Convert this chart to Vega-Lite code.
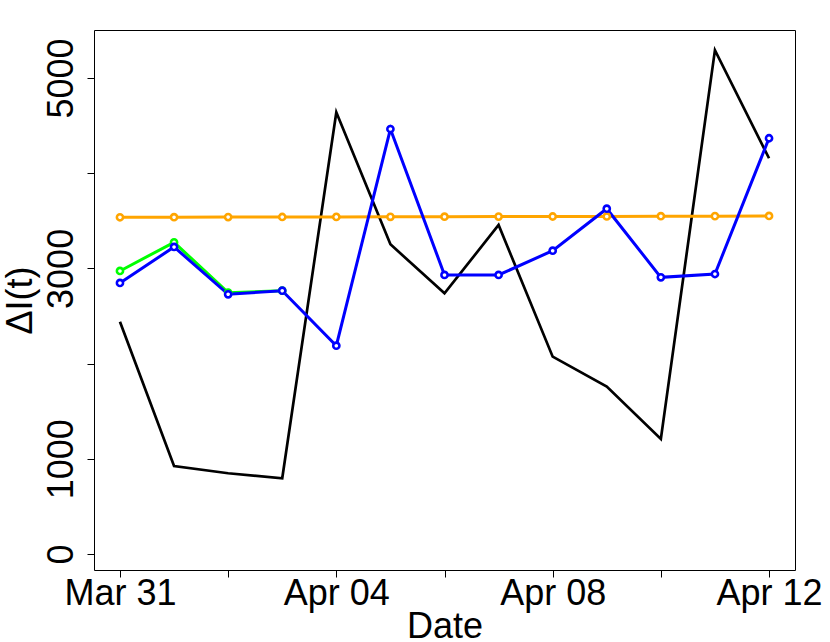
{
  "$schema": "https://vega.github.io/schema/vega-lite/v6.json",
  "width": 701,
  "height": 540,
  "autosize": {"type": "none"},
  "padding": {"left": 94, "top": 30, "right": 35, "bottom": 72},
  "background": "white",
  "config": {
    "view": {"stroke": "black", "strokeWidth": 1},
    "font": "Liberation Sans"
  },
  "data": {
    "values": [
      {"date": "2020-03-31", "series": "obs", "value": 2440},
      {"date": "2020-04-01", "series": "obs", "value": 924},
      {"date": "2020-04-02", "series": "obs", "value": 848},
      {"date": "2020-04-03", "series": "obs", "value": 795},
      {"date": "2020-04-04", "series": "obs", "value": 4640},
      {"date": "2020-04-05", "series": "obs", "value": 3253},
      {"date": "2020-04-06", "series": "obs", "value": 2738},
      {"date": "2020-04-07", "series": "obs", "value": 3456},
      {"date": "2020-04-08", "series": "obs", "value": 2073},
      {"date": "2020-04-09", "series": "obs", "value": 1758},
      {"date": "2020-04-10", "series": "obs", "value": 1208},
      {"date": "2020-04-11", "series": "obs", "value": 5292},
      {"date": "2020-04-12", "series": "obs", "value": 4157},
      {"date": "2020-03-31", "series": "orange", "value": 3537},
      {"date": "2020-04-01", "series": "orange", "value": 3538},
      {"date": "2020-04-02", "series": "orange", "value": 3539},
      {"date": "2020-04-03", "series": "orange", "value": 3540},
      {"date": "2020-04-04", "series": "orange", "value": 3541},
      {"date": "2020-04-05", "series": "orange", "value": 3542},
      {"date": "2020-04-06", "series": "orange", "value": 3543},
      {"date": "2020-04-07", "series": "orange", "value": 3544},
      {"date": "2020-04-08", "series": "orange", "value": 3545},
      {"date": "2020-04-09", "series": "orange", "value": 3546},
      {"date": "2020-04-10", "series": "orange", "value": 3548},
      {"date": "2020-04-11", "series": "orange", "value": 3549},
      {"date": "2020-04-12", "series": "orange", "value": 3551},
      {"date": "2020-03-31", "series": "green", "value": 2973},
      {"date": "2020-04-01", "series": "green", "value": 3274},
      {"date": "2020-04-02", "series": "green", "value": 2745},
      {"date": "2020-04-03", "series": "green", "value": 2766},
      {"date": "2020-03-31", "series": "blue", "value": 2847},
      {"date": "2020-04-01", "series": "blue", "value": 3225},
      {"date": "2020-04-02", "series": "blue", "value": 2728},
      {"date": "2020-04-03", "series": "blue", "value": 2766},
      {"date": "2020-04-04", "series": "blue", "value": 2188},
      {"date": "2020-04-05", "series": "blue", "value": 4464},
      {"date": "2020-04-06", "series": "blue", "value": 2931},
      {"date": "2020-04-07", "series": "blue", "value": 2931},
      {"date": "2020-04-08", "series": "blue", "value": 3186},
      {"date": "2020-04-09", "series": "blue", "value": 3627},
      {"date": "2020-04-10", "series": "blue", "value": 2906},
      {"date": "2020-04-11", "series": "blue", "value": 2941},
      {"date": "2020-04-12", "series": "blue", "value": 4367}
    ]
  },
  "encoding": {
    "x": {
      "field": "date",
      "type": "temporal",
      "scale": {
        "type": "utc",
        "domain": [
          {"year": 2020, "month": 3, "date": 30, "hours": 12, "minutes": 28, "seconds": 48, "utc": true},
          {"year": 2020, "month": 4, "date": 12, "hours": 11, "minutes": 31, "seconds": 12, "utc": true}
        ]
      },
      "axis": {
        "values": [
          {"year": 2020, "month": 3, "date": 31, "utc": true},
          {"year": 2020, "month": 4, "date": 2, "utc": true},
          {"year": 2020, "month": 4, "date": 4, "utc": true},
          {"year": 2020, "month": 4, "date": 6, "utc": true},
          {"year": 2020, "month": 4, "date": 8, "utc": true},
          {"year": 2020, "month": 4, "date": 10, "utc": true},
          {"year": 2020, "month": 4, "date": 12, "utc": true}
        ],
        "labelExpr": "indexof(['Mar 31','Apr 04','Apr 08','Apr 12'], utcFormat(datum.value,'%b %d')) >= 0 ? utcFormat(datum.value,'%b %d') : ''",
        "grid": false,
        "domain": false,
        "ticks": true,
        "tickSize": 7,
        "tickColor": "black",
        "tickWidth": 1,
        "labelFontSize": 36,
        "labelColor": "black",
        "labelBaseline": "alphabetic",
        "labelAlign": "center",
        "labelPadding": 27,
        "labelFlush": false,
        "labelOverlap": false,
        "title": "Date",
        "titleFontSize": 36,
        "titleFontWeight": "normal",
        "titleColor": "black",
        "titleBaseline": "alphabetic",
        "titleAlign": "center",
        "titleX": 350.5,
        "titleY": 67
      }
    },
    "y": {
      "field": "value",
      "type": "quantitative",
      "scale": {"domain": [-168, 5504], "nice": false, "zero": false},
      "axis": {
        "values": [0, 1000, 2000, 3000, 4000, 5000],
        "format": "d",
        "labelExpr": "datum.value == 2000 || datum.value == 4000 ? '' : datum.label",
        "grid": false,
        "domain": false,
        "tickSize": 7,
        "tickColor": "black",
        "tickWidth": 1,
        "labelFontSize": 36,
        "labelColor": "black",
        "labelAngle": -90,
        "labelAlign": "center",
        "labelBaseline": "alphabetic",
        "labelPadding": 15,
        "labelOverlap": false,
        "title": "ΔI(t)",
        "titleFontSize": 36,
        "titleFontWeight": "normal",
        "titleColor": "black",
        "titleAngle": -90,
        "titleAlign": "center",
        "titleBaseline": "alphabetic",
        "titleX": -63,
        "titleY": 270
      }
    },
    "color": {
      "field": "series",
      "type": "nominal",
      "scale": {
        "domain": ["obs", "orange", "green", "blue"],
        "range": ["black", "#FFA500", "#00FF00", "#0000FF"]
      },
      "legend": null
    }
  },
  "layer": [
    {
      "transform": [{"filter": "datum.series == 'obs'"}],
      "mark": {"type": "line", "strokeWidth": 2.7}
    },
    {
      "transform": [{"filter": "datum.series == 'orange'"}],
      "mark": {"type": "line", "strokeWidth": 3}
    },
    {
      "transform": [{"filter": "datum.series == 'green'"}],
      "mark": {"type": "line", "strokeWidth": 3}
    },
    {
      "transform": [{"filter": "datum.series == 'blue'"}],
      "mark": {"type": "line", "strokeWidth": 3}
    },
    {
      "transform": [{"filter": "datum.series != 'obs'"}],
      "mark": {"type": "point", "shape": "circle", "filled": false, "fill": "white", "fillOpacity": 1, "strokeWidth": 2.6, "size": 38, "opacity": 1}
    }
  ]
}
